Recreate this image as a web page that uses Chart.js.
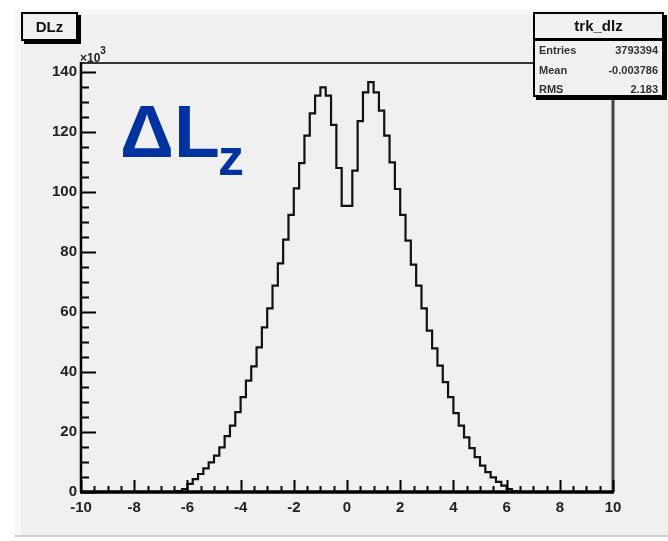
<!DOCTYPE html>
<html>
<head>
<meta charset="utf-8">
<script src="https://cdn.jsdelivr.net/npm/chart.js@4"></script>
<style>
  body { margin: 0; background: #fff; }
  #wrap { position: relative; width: 668px; height: 541px; overflow: hidden; }
  #plot { position: absolute; left: 0; top: 0; }
  .box { position: absolute; background: #f0f0f0; border: 2px solid #000; box-shadow: 3px 3px 0 #000;
         font-family: "Liberation Sans", Arial, sans-serif; color: #111; box-sizing: border-box; }
  #title { left: 21px; top: 12px; width: 57px; height: 29px; font-size: 15px; font-weight: bold;
           text-align: center; line-height: 25px; }
  #stats { left: 533px; top: 12px; width: 131px; height: 85px; }
  #stats .head { height: 24px; border-bottom: 3px solid #000; text-align: center; font-size: 15px;
                 font-weight: bold; line-height: 24px; }
  #stats .row { display: flex; justify-content: space-between; padding: 0 4px; height: 19.5px;
                line-height: 19.5px; font-size: 11px; font-weight: bold; color: #333; }
  .txt { position: absolute; font-family: "Liberation Sans", Arial, sans-serif; white-space: nowrap; }
  #mult { left: 80px; top: 47px; font-size: 12px; font-weight: bold; color: #222; line-height: 14px; }
  #mult sup { font-size: 10px; position: relative; top: -3px; }
  #dlz1 { left: 120px; top: 94px; font-size: 75px; line-height: 75px; font-weight: bold; color: #0033a0; }
  #dlz2 { left: 218px; top: 131px; font-size: 52px; line-height: 52px; font-weight: bold; color: #0033a0; }
</style>
</head>
<body>
<div id="wrap">
  <canvas id="plot" width="668" height="541"></canvas>
  <div class="box" id="title">DLz</div>
  <div class="box" id="stats">
    <div class="head">trk_dlz</div>
    <div class="row"><span>Entries</span><span>3793394</span></div>
    <div class="row"><span>Mean</span><span>-0.003786</span></div>
    <div class="row"><span>RMS</span><span>2.183</span></div>
  </div>
  <div class="txt" id="mult">×10<sup>3</sup></div>
  <div class="txt" id="dlz1">ΔL</div>
  <div class="txt" id="dlz2">z</div>
</div>
<script>
// histogram binning (trk_dlz), 100 bins over [-10, 10]
const xMin = -10;
const xMax = 10;
const binWidth = 0.2;

// bin contents in units of 10^3, left to right
const counts = [
  0, 0, 0, 0, 0, 0, 0, 0, 0, 0,
  0, 0, 0, 0, 0, 0, 0, 0, 0.3, 1.0,
  2.7, 4.3, 6.0, 7.9, 9.9, 12.1, 14.9, 18.6, 22.1, 26.6,
  31.6, 37.1, 41.9, 48.2, 54.9, 61.2, 68.8, 76.2, 84.1, 92.4,
  101.2, 109.6, 118.8, 126.2, 132.1, 134.9, 132.1, 122.4, 108.0, 95.4,
  95.4, 107.1, 123.6, 133.2, 136.6, 133.2, 127.1, 118.8, 109.9, 101.0,
  92.4, 83.8, 75.8, 68.8, 61.2, 53.8, 47.9, 42.1, 36.6, 31.6,
  26.3, 22.1, 18.2, 14.6, 11.6, 8.8, 6.6, 4.9, 3.4, 2.1,
  1.0, 0.3, 0, 0, 0, 0, 0, 0, 0, 0,
  0, 0, 0, 0, 0, 0, 0, 0, 0, 0
];

const yTickLabels = [0, 20, 40, 60, 80, 100, 120, 140];
const yMax = 143;
const yMajorStep = 20;
const yMinorStep = 5;
const xMajorStep = 2;
const xMinorStep = 0.5;

const points = counts.map((c, i) => ({ x: xMin + i * binWidth, y: c }));
points.push({ x: xMax, y: 0 });

const tickFont = { family: 'Liberation Sans', size: 15, weight: 'bold' };

const padBackground = {
  id: 'padBackground',
  beforeDraw(chart) {
    const ctx = chart.ctx;
    ctx.save();
    ctx.fillStyle = '#fff';
    ctx.fillRect(0, 0, chart.width, chart.height);
    ctx.fillStyle = '#f7f7f7';
    ctx.fillRect(15, 10, chart.width - 15, 527);
    ctx.fillStyle = '#f0f0f0';
    ctx.fillRect(21, 15, chart.width - 21, 520);
    ctx.fillStyle = '#cfcfcf';
    ctx.fillRect(15, 535, chart.width - 15, 2);
    // frame
    const a = chart.chartArea;
    ctx.strokeStyle = '#333';
    ctx.lineWidth = 2;
    ctx.beginPath();
    ctx.moveTo(a.left, a.top);
    ctx.lineTo(a.right, a.top);
    ctx.stroke();
    ctx.lineWidth = 3;
    ctx.strokeStyle = '#444';
    ctx.beginPath();
    ctx.moveTo(a.right, a.top);
    ctx.lineTo(a.right, a.bottom);
    ctx.stroke();
    ctx.restore();
  }
};

// ROOT style axes: ticks pointing into the frame
const rootAxes = {
  id: 'rootAxes',
  afterDatasetsDraw(chart) {
    const ctx = chart.ctx;
    const a = chart.chartArea;
    const xs = chart.scales.x;
    const ys = chart.scales.y;
    ctx.save();
    ctx.strokeStyle = '#000';
    ctx.lineWidth = 2;
    for (let v = 0; v <= yMax; v += yMinorStep) {
      const py = Math.round(ys.getPixelForValue(v)) + 0.5;
      const len = v % yMajorStep === 0 ? 15 : 8;
      ctx.beginPath();
      ctx.moveTo(a.left, py);
      ctx.lineTo(a.left + len, py);
      ctx.stroke();
    }
    for (let v = xMin; v <= xMax + 1e-9; v += xMinorStep) {
      const px = Math.round(xs.getPixelForValue(v)) + 0.5;
      const len = Math.abs(v % xMajorStep) < 1e-9 ? 12 : 6;
      ctx.beginPath();
      ctx.moveTo(px, a.bottom);
      ctx.lineTo(px, a.bottom - len);
      ctx.stroke();
    }
    ctx.lineWidth = 2.5;
    ctx.beginPath();
    ctx.moveTo(a.left, a.top - 1);
    ctx.lineTo(a.left, a.bottom);
    ctx.stroke();
    ctx.lineWidth = 3.5;
    ctx.beginPath();
    ctx.moveTo(a.left - 1, a.bottom);
    ctx.lineTo(a.right + 1, a.bottom);
    ctx.stroke();
    ctx.restore();
  }
};

new Chart(document.getElementById('plot').getContext('2d'), {
  type: 'line',
  data: {
    datasets: [{
      data: points,
      stepped: 'before',
      borderColor: '#111',
      borderWidth: 2.2,
      borderJoinStyle: 'miter',
      pointRadius: 0,
      fill: false
    }]
  },
  options: {
    responsive: false,
    animation: false,
    devicePixelRatio: 1,
    layout: { padding: { left: 31, right: 55, top: 63, bottom: 19 } },
    plugins: { legend: { display: false }, tooltip: { enabled: false } },
    scales: {
      x: {
        type: 'linear',
        min: xMin,
        max: xMax,
        grid: { display: false, drawTicks: false },
        border: { display: false },
        ticks: { stepSize: xMajorStep, padding: 7, color: '#222', font: tickFont, maxRotation: 0, autoSkip: false },
        afterFit: s => { s.height = 30; }
      },
      y: {
        min: 0,
        max: yMax,
        grid: { display: false, drawTicks: false },
        border: { display: false },
        ticks: { padding: 4, color: '#222', font: tickFont, autoSkip: false },
        afterBuildTicks: s => { s.ticks = yTickLabels.map(v => ({ value: v })); },
        afterFit: s => { s.width = 50; }
      }
    }
  },
  plugins: [padBackground, rootAxes]
});
</script>
</body>
</html>
